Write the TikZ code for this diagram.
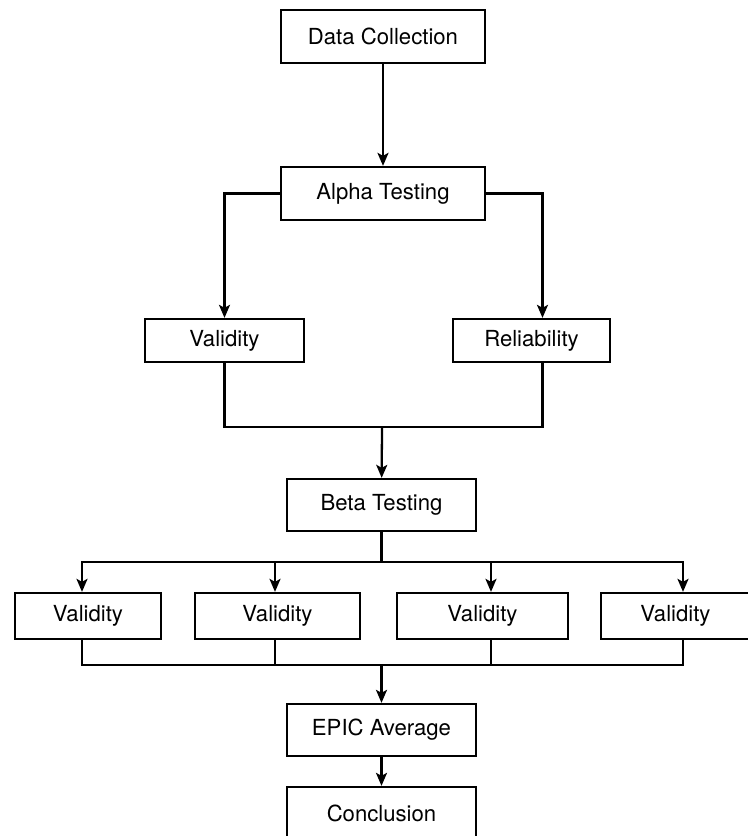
\documentclass[tikz,border=0pt]{standalone}
\usepackage{fontspec}
\setmainfont{TeX Gyre Heros}
\usetikzlibrary{arrows.meta}

\begin{document}
\begin{tikzpicture}[x=.02cm, y=-.02cm, line width=1.3pt, >={Stealth[length=2.6mm, width=2.2mm, inset=.6mm]},
	box/.style={draw, rectangle, inner sep=0pt, font=\fontsize{12.6}{14}\selectfont}]
	\useasboundingbox (0, 0) rectangle (748, 836);
	\clip (0, 0) rectangle (748, 836);
	% top part
	\node[box, minimum width=4.08cm, minimum height=1.06cm] (dc) at (383, 36.5) {Data Collection};
	\node[box, minimum width=4.08cm, minimum height=1.06cm] (alpha) at (383, 193.5) {Alpha Testing};
	\node[box, minimum width=3.18cm, minimum height=.86cm] (val) at (224.5, 340.5) {Validity};
	\node[box, minimum width=3.14cm, minimum height=.86cm] (rel) at (531.5, 340.5) {Reliability};
	\node[box, minimum width=3.78cm, minimum height=1.04cm] (beta) at (381.5, 505) {Beta Testing};
	% second row of checks
	\foreach \i/\x/\w in {1/88/2.92, 2/277.5/3.3, 3/482.5/3.42, 4/675.5/2.98} {
		\node[box, minimum width=\w cm, minimum height=.92cm] (v\i) at (\x, 616) {Validity};
	}
	\node[box, minimum width=3.78cm, minimum height=1.04cm] (epic) at (381.5, 730) {EPIC Average};
	\node[box, minimum width=3.78cm, minimum height=1.04cm] (concl) at (381.5, 813) {Conclusion};

	\coordinate (join1) at (382, 427);
	\coordinate (split) at (381.5, 562);
	\coordinate (join2) at (381.5, 665);

	\draw[->] (dc) -- (alpha);
	\draw[->] (alpha.west) -| (val.north);
	\draw[->] (alpha.east) -| ([xshift=.22cm]rel.north);
	\draw (val.south) |- (join1);
	\draw ([xshift=.22cm]rel.south) |- (join1);
	\draw[->] (join1) -- (beta);
	\draw (beta) -- (split);
	\foreach \i/\s in {1/-.12, 2/-.05, 3/.17, 4/.15} {
		\draw[->] (split) -| ([xshift=\s cm]v\i.north);
		\draw ([xshift=\s cm]v\i.south) |- (join2);
	}
	\draw[->] (join2) -- (epic);
	\draw[->] (epic) -- (concl);
\end{tikzpicture}
\end{document}
